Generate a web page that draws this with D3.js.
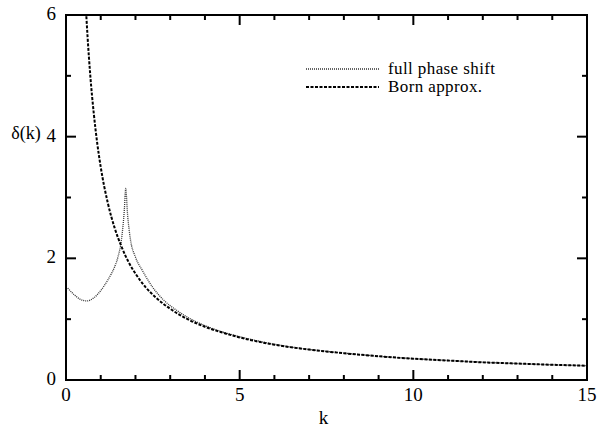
<!DOCTYPE html>
<html>
<head>
<meta charset="utf-8">
<script src="https://cdn.jsdelivr.net/npm/d3@7"></script>
<style>
  body { margin: 0; background: #fff; }
  text { font-family: "Liberation Serif", "Times New Roman", serif; fill: #000; }
</style>
</head>
<body>
<div id="chart"></div>
<script>
// values
const bornK = [0.55, 0.62, 0.7, 0.8, 0.9, 1.0, 1.2, 1.4, 1.6, 1.8, 2.0, 2.3, 2.6, 3.0, 3.5, 4, 4.5, 5, 6, 7, 8, 9, 10, 11, 12, 13, 14, 15];
const bornD = [6.35, 5.65, 5.0, 4.38, 3.89, 3.5, 2.92, 2.5, 2.19, 1.94, 1.75, 1.52, 1.35, 1.17, 1.0, 0.875, 0.78, 0.70, 0.58, 0.50, 0.44, 0.39, 0.35, 0.32, 0.29, 0.27, 0.25, 0.235];

const fullK = [0.05, 0.2, 0.4, 0.6, 0.8, 1.0, 1.2, 1.3, 1.4, 1.5, 1.6, 1.68, 1.72, 1.77, 1.85, 2.0, 2.2, 2.5, 2.8, 3.2, 3.6, 4, 4.5, 5, 6, 7, 8, 9, 10, 11, 12, 13, 14, 15];
const fullD = [1.51, 1.42, 1.33, 1.30, 1.35, 1.47, 1.64, 1.74, 1.86, 2.03, 2.32, 2.8, 3.15, 2.74, 2.33, 2.02, 1.8, 1.52, 1.32, 1.14, 1.0, 0.895, 0.79, 0.712, 0.587, 0.503, 0.442, 0.391, 0.351, 0.32, 0.292, 0.27, 0.25, 0.235];

const xDomain = [0, 15];
const yDomain = [0, 6];
const xTickMajor = [0, 5, 10, 15];
const yTickMajor = [0, 2, 4, 6];
const legendLabels = ["full phase shift", "Born approx."];

const W = 606, H = 430;
const m = { left: 66, right: 19, top: 15, bottom: 50 };
const iw = W - m.left - m.right, ih = H - m.top - m.bottom;

const svg = d3.select("#chart").append("svg").attr("width", W).attr("height", H);
const g = svg.append("g").attr("transform", "translate(" + m.left + "," + m.top + ")");

const x = d3.scaleLinear().domain(xDomain).range([0, iw]);
const y = d3.scaleLinear().domain(yDomain).range([ih, 0]);

svg.append("defs").append("clipPath").attr("id", "clip")
  .append("rect").attr("width", iw).attr("height", ih);

// inward ticks on all four sides
const xMinor = d3.range(0, 16, 1);
const yMinor = d3.range(0, 7, 1);
const tickLen = v => (v % 5 === 0 ? 10 : 5);
const tickLenY = v => (v % 2 === 0 ? 10 : 5);

g.selectAll(".xt").data(xMinor).join("line")
  .attr("x1", d => x(d)).attr("x2", d => x(d))
  .attr("y1", ih).attr("y2", d => ih - tickLen(d))
  .attr("stroke", "#000").attr("stroke-width", 2);
g.selectAll(".xt2").data(xMinor).join("line")
  .attr("x1", d => x(d)).attr("x2", d => x(d))
  .attr("y1", 0).attr("y2", d => tickLen(d))
  .attr("stroke", "#000").attr("stroke-width", 2);
g.selectAll(".yt").data(yMinor).join("line")
  .attr("y1", d => y(d)).attr("y2", d => y(d))
  .attr("x1", 0).attr("x2", d => tickLenY(d))
  .attr("stroke", "#000").attr("stroke-width", 2);
g.selectAll(".yt2").data(yMinor).join("line")
  .attr("y1", d => y(d)).attr("y2", d => y(d))
  .attr("x1", iw).attr("x2", d => iw - tickLenY(d))
  .attr("stroke", "#000").attr("stroke-width", 2);

// tick labels
g.selectAll(".xl").data(xTickMajor).join("text")
  .attr("x", d => x(d)).attr("y", ih + 21)
  .attr("text-anchor", "middle").attr("font-size", 19)
  .text(d => d);
g.selectAll(".yl").data(yTickMajor).join("text")
  .attr("x", -10).attr("y", d => y(d) + 5)
  .attr("text-anchor", "end").attr("font-size", 19)
  .text(d => d);

// axis titles
svg.append("text").attr("x", m.left + iw / 2 - 3).attr("y", 424)
  .attr("text-anchor", "middle").attr("font-size", 19).text("k");
svg.append("text").attr("x", 26).attr("y", 139)
  .attr("text-anchor", "middle").attr("font-size", 18).text("δ(k)");

const line = d3.line().x(d => x(d[0])).y(d => y(d[1])).curve(d3.curveMonotoneX);

const plot = g.append("g").attr("clip-path", "url(#clip)");
plot.append("path")
  .datum(fullK.map((k, i) => [k, fullD[i]]))
  .attr("fill", "none").attr("stroke", "#333").attr("stroke-width", 1.3)
  .attr("stroke-dasharray", "1,1")
  .attr("d", line);
plot.append("path")
  .datum(bornK.map((k, i) => [k, bornD[i]]))
  .attr("fill", "none").attr("stroke", "#000").attr("stroke-width", 2)
  .attr("stroke-dasharray", "3,1.5")
  .attr("d", line);

// frame
g.append("rect").attr("width", iw).attr("height", ih)
  .attr("fill", "none").attr("stroke", "#000").attr("stroke-width", 2);

// legend
const leg = svg.append("g");
const legStyles = [
  { stroke: "#333", width: 1.3, dash: "1,1" },
  { stroke: "#000", width: 2, dash: "3,1.5" }
];
legendLabels.forEach((lab, i) => {
  const ly = 69 + i * 18;
  leg.append("line").attr("x1", 306).attr("x2", 379).attr("y1", ly).attr("y2", ly)
    .attr("stroke", legStyles[i].stroke).attr("stroke-width", legStyles[i].width)
    .attr("stroke-dasharray", legStyles[i].dash);
  leg.append("text").attr("x", 388).attr("y", ly + 5).attr("font-size", 17)
    .attr("letter-spacing", 0.4)
    .text(lab);
});
</script>
</body>
</html>
